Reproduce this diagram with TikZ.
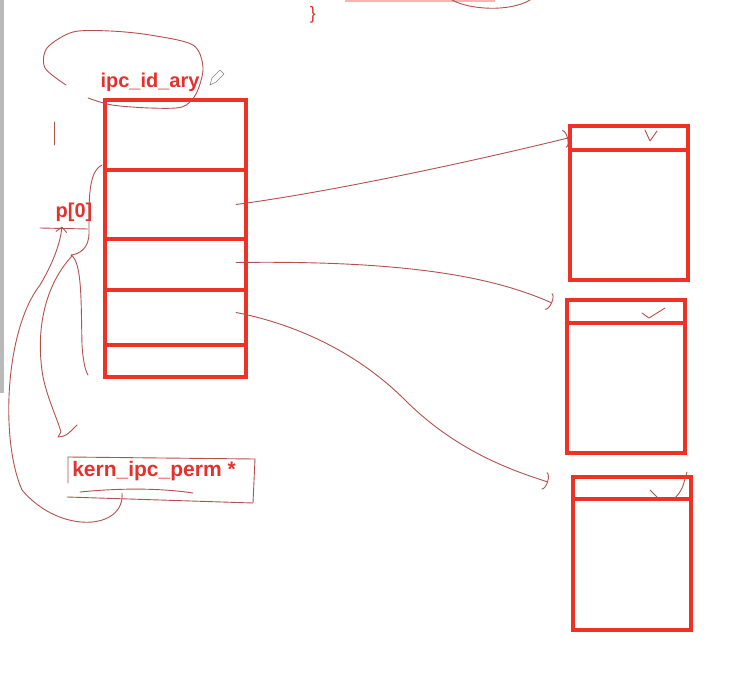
\documentclass[tikz,border=0pt]{standalone}
\usepackage{fontspec}
\setmainfont{Liberation Sans}
\usetikzlibrary{arrows.meta,positioning}
\definecolor{Marker}{HTML}{EE3226}
\definecolor{Ink}{HTML}{B3504E}
\definecolor{Label}{HTML}{E3312D}

\begin{document}
\begin{tikzpicture}[x=1pt,y=-1pt,
  cell/.style={draw=Marker,line width=4.5pt,minimum width=141pt,outer sep=0pt,inner sep=0pt},
  objbox/.style={draw=Marker,line width=4.5pt,minimum width=118pt,outer sep=0pt,inner sep=0pt},
  tag/.style={text=Label,font=\fontsize{20}{22}\selectfont\bfseries,inner sep=1pt},
  pen/.style={draw=Ink,line width=0.9pt,line cap=round,line join=round},
  link/.style={pen,-{Arc Barb[length=4pt,width=18pt]}},
  back/.style={pen,-{Straight Barb[length=5pt,width=11pt]}}
]
\useasboundingbox (0,0) rectangle (734,679);
\fill[gray!55] (0,0) rectangle (4,393);
\fill[red!30] (345,0) rectangle (495,2);
\draw[pen] (452,0) .. controls (470,10) and (510,12) .. (530,0);
\node[text=Label,font=\fontsize{18}{20}\selectfont] (brace) at (313,15) {\}};

\node[cell,minimum height=70pt,anchor=north west] (cell0) at (105,100) {};
\node[cell,minimum height=69pt,below=0pt of cell0] (cell1) {};
\node[cell,minimum height=51pt,below=0pt of cell1] (cell2) {};
\node[cell,minimum height=55pt,below=0pt of cell2] (cell3) {};
\node[cell,minimum height=32pt,below=0pt of cell3] (cell4) {};

\node[objbox,minimum height=24pt,anchor=north west] (head1) at (570,126) {};
\node[objbox,minimum height=130pt,below=0pt of head1] (body1) {};
\node[objbox,minimum height=23pt,anchor=north west] (head2) at (567,300) {};
\node[objbox,minimum height=130pt,below=0pt of head2] (body2) {};
\node[objbox,minimum height=22pt,anchor=north west] (head3) at (573,477) {};
\node[objbox,minimum height=131pt,below=0pt of head3] (body3) {};

\node[tag] (idlabel) at (150,82) {ipc\_id\_ary};
\node[tag] (p0) at (74,212) {p[0]};
\node[tag,font=\fontsize{21}{23}\selectfont\bfseries] (kern) at (154,471) {kern\_ipc\_perm *};

\coordinate (tip2) at (552,303);
\coordinate (tip3) at (548,482);

\draw[link] ([xshift=-10pt]cell1.east) .. controls (330,192) and (470,162) .. ([xshift=-2pt]head1.west);
\draw[link] ([xshift=-10pt,yshift=2pt]cell2.east) .. controls (420,260) and (500,280) .. (tip2);
\draw[link] ([xshift=-10pt,yshift=5pt]cell3.east) .. controls (300,325) and (360,355) .. (405,400)
  .. controls (455,450) and (510,470) .. (tip3);
\draw[back] ([xshift=-32pt,yshift=-11pt]kern.south) .. controls (125,530) and (60,535) .. (22,490)
  .. controls (0,440) and (5,330) .. (40,285) .. controls (52,265) and (60,245) .. ([xshift=-12pt,yshift=-4pt]p0.south);

\draw[pen] plot[smooth] coordinates {(88,98) (112,105) (150,108) (182,107) (196,94) (203,68) (193,45) (150,35) (110,31) (73,32) (47,48) (45,68) (66,85)};
\draw[gray,line width=0.6pt] (210,85) -- (212,78) -- (220,70) -- (224,74) -- (216,82) -- cycle;
\draw[pen] (54,122) -- (54,145);
\draw[pen] (102,165) .. controls (88,172) and (89,200) .. (89,233) .. controls (89,248) and (80,254) .. (71,255)
  .. controls (82,262) and (81,300) .. (82,345) .. controls (83,360) and (85,370) .. (88,375);
\draw[pen] (40,228) -- (88,229);
\draw[pen] (72,256) .. controls (45,285) and (35,330) .. (43,377) .. controls (48,400) and (57,418) .. (61,432)
  -- (58,437) .. controls (66,436) .. (77,425);
\draw[pen] (68,483) -- (68,457) -- (255,459) -- (253,503) -- (67,497);
\draw[pen] (80,492) .. controls (120,488) and (160,488) .. (193,493);

\draw[pen] (645,130) -- (650,141) -- (657,131);
\draw[pen] (642,313) -- (649,318) -- (665,308);
\draw[pen] (650,490) -- (657,497);
\draw[pen] (675,498) .. controls (682,490) .. (687,472);
\end{tikzpicture}
\end{document}
